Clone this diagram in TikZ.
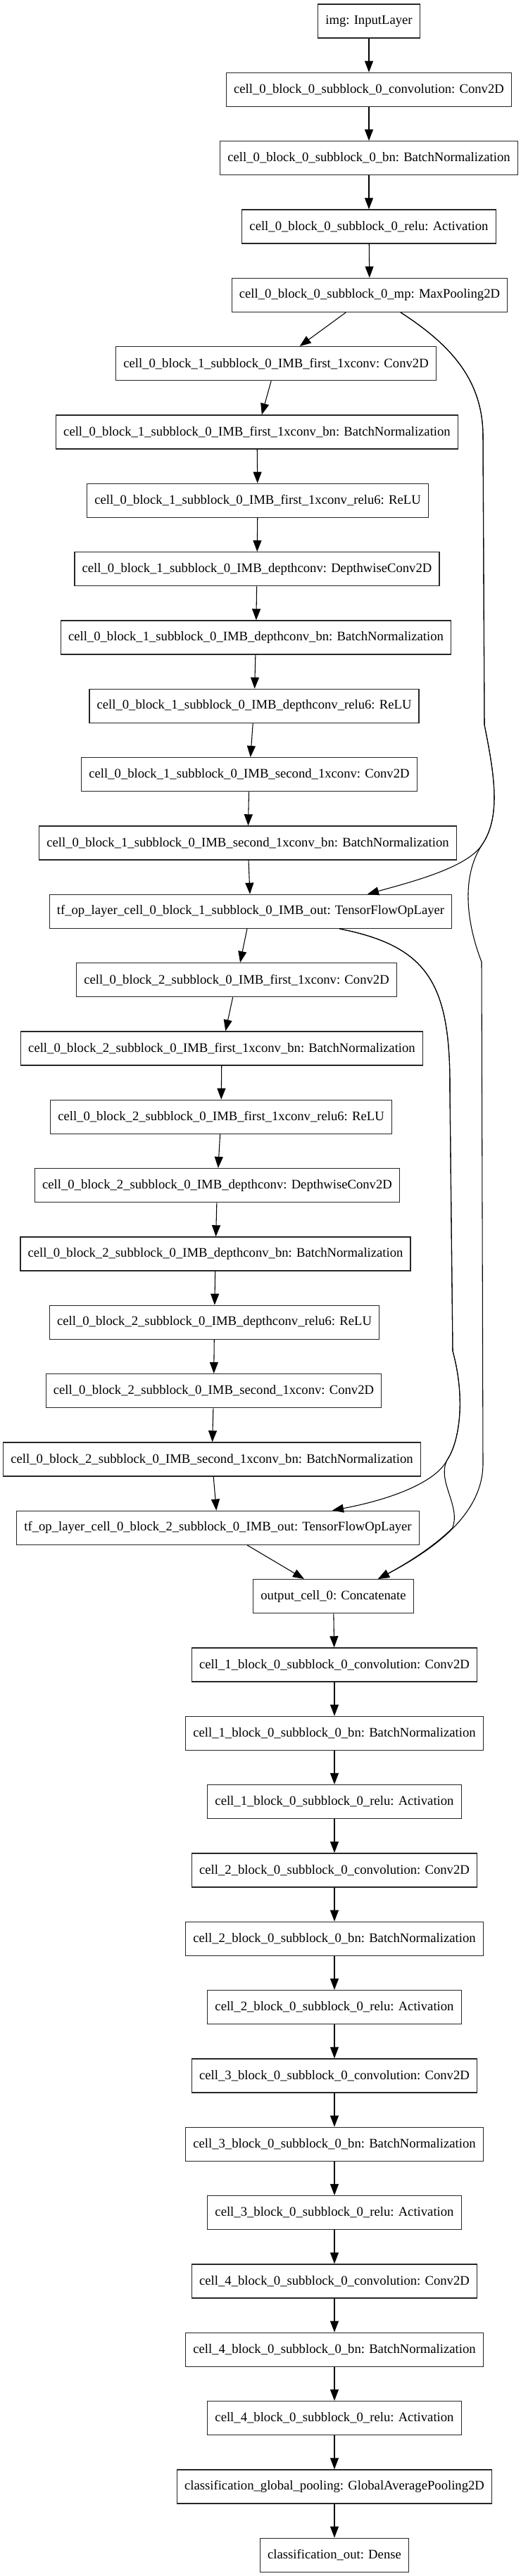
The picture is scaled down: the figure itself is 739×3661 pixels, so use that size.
\documentclass[tikz,border=0pt]{standalone}
\usepackage{fontspec}
\setmainfont{Liberation Serif}
\usetikzlibrary{arrows.meta, calc}

\begin{document}
\begin{tikzpicture}[
    x=0.75bp, y=-0.75bp,
    >={Triangle[length=12bp, width=9bp]},
    layerbox/.style={draw=black!85, line width=1bp, minimum height=36bp,
                     inner xsep=8bp, inner ysep=0pt,
                     font=\fontsize{14bp}{17bp}\selectfont},
    link/.style={->, line width=0.8bp}
  ]
  \useasboundingbox (0,0) rectangle (739,3661);

  % Cell 0, stem
  \foreach \i/\cx/\txt in {
      1/524/img: InputLayer,
      2/524/cell\_0\_block\_0\_subblock\_0\_convolution: Conv2D,
      3/524/cell\_0\_block\_0\_subblock\_0\_bn: BatchNormalization,
      4/524/cell\_0\_block\_0\_subblock\_0\_relu: Activation,
      5/525/cell\_0\_block\_0\_subblock\_0\_mp: MaxPooling2D} {
    \pgfmathsetmacro{\ry}{30+(\i-1)*97.33}
    \node[layerbox] (n\i) at (\cx,\ry) {\txt};
  }

  % Cell 0, block 1
  \foreach \i/\cx/\txt in {
      6/392/cell\_0\_block\_1\_subblock\_0\_IMB\_first\_1xconv: Conv2D,
      7/365/cell\_0\_block\_1\_subblock\_0\_IMB\_first\_1xconv\_bn: BatchNormalization,
      8/366/cell\_0\_block\_1\_subblock\_0\_IMB\_first\_1xconv\_relu6: ReLU,
      9/365/cell\_0\_block\_1\_subblock\_0\_IMB\_depthconv: DepthwiseConv2D,
      10/363.5/cell\_0\_block\_1\_subblock\_0\_IMB\_depthconv\_bn: BatchNormalization,
      11/361/cell\_0\_block\_1\_subblock\_0\_IMB\_depthconv\_relu6: ReLU,
      12/354/cell\_0\_block\_1\_subblock\_0\_IMB\_second\_1xconv: Conv2D,
      13/352/cell\_0\_block\_1\_subblock\_0\_IMB\_second\_1xconv\_bn: BatchNormalization,
      14/356/tf\_op\_layer\_cell\_0\_block\_1\_subblock\_0\_IMB\_out: TensorFlowOpLayer} {
    \pgfmathsetmacro{\ry}{30+(\i-1)*97.33}
    \node[layerbox] (n\i) at (\cx,\ry) {\txt};
  }

  % Cell 0, block 2
  \foreach \i/\cx/\txt in {
      15/336/cell\_0\_block\_2\_subblock\_0\_IMB\_first\_1xconv: Conv2D,
      16/315/cell\_0\_block\_2\_subblock\_0\_IMB\_first\_1xconv\_bn: BatchNormalization,
      17/314/cell\_0\_block\_2\_subblock\_0\_IMB\_first\_1xconv\_relu6: ReLU,
      18/308.5/cell\_0\_block\_2\_subblock\_0\_IMB\_depthconv: DepthwiseConv2D,
      19/306/cell\_0\_block\_2\_subblock\_0\_IMB\_depthconv\_bn: BatchNormalization,
      20/304.5/cell\_0\_block\_2\_subblock\_0\_IMB\_depthconv\_relu6: ReLU,
      21/303.5/cell\_0\_block\_2\_subblock\_0\_IMB\_second\_1xconv: Conv2D,
      22/301/cell\_0\_block\_2\_subblock\_0\_IMB\_second\_1xconv\_bn: BatchNormalization,
      23/309.5/tf\_op\_layer\_cell\_0\_block\_2\_subblock\_0\_IMB\_out: TensorFlowOpLayer,
      24/473.5/output\_cell\_0: Concatenate} {
    \pgfmathsetmacro{\ry}{30+(\i-1)*97.33}
    \node[layerbox] (n\i) at (\cx,\ry) {\txt};
  }

  % Cells 1 to 4
  \foreach \c in {1,...,4} {
    \foreach \k/\sfx in {0/convolution: Conv2D, 1/bn: BatchNormalization,
                         2/relu: Activation} {
      \pgfmathtruncatemacro{\i}{25+3*(\c-1)+\k}
      \pgfmathsetmacro{\ry}{30+(\i-1)*97.33}
      \node[layerbox] (n\i) at (475,\ry)
        {cell\_\c\_block\_0\_subblock\_0\_\sfx};
    }
  }

  % Classification head
  \node[layerbox] (n37) at (475,{30+36*97.33})
    {classification\_global\_pooling: GlobalAveragePooling2D};
  \node[layerbox] (n38) at (475,{30+37*97.33}) {classification\_out: Dense};

  % Main chain
  \foreach \i in {1,...,37} {
    \pgfmathtruncatemacro{\j}{\i+1}
    \draw[link] (n\i) -- (n\j);
  }

  % Skips from the max pooling
  \draw[link] ($(n5.south)+(44,0)$) .. controls (640,490) and (686,540) .. (686,620)
    -- (688,1030) .. controls (702,1100) and (712,1160) .. (685,1200)
    .. controls (665,1232) and (590,1252) .. ($(n14.north)+(166,0)$);
  \draw[link] ($(n5.south)+(44,0)$) .. controls (640,490) and (686,540) .. (686,620)
    -- (688,1030) .. controls (702,1100) and (712,1160) .. (685,1200)
    .. controls (655,1245) and (662,1310) .. (684,1367)
    -- (686,2080) .. controls (686,2150) and (620,2200) .. ($(n24.north)+(63.5,0)$);

  % Skips from block 1 output
  \draw[link] ($(n14.south)+(126,0)$) .. controls (610,1345) and (640,1400) .. (639,1550)
    -- (643,1920) .. controls (662,1990) and (652,2050) .. (635,2075)
    .. controls (620,2105) and (560,2130) .. ($(n23.north)+(162.5,0)$);
  \draw[link] ($(n14.south)+(126,0)$) .. controls (610,1345) and (640,1400) .. (639,1550)
    -- (643,1920) .. controls (662,1990) and (652,2050) .. (635,2075)
    .. controls (620,2105) and (655,2140) .. (642.6,2171.6)
    .. controls (615.75,2198.25) and (578.5,2221.5) .. ($(n24.north)+(63.5,0)$);
\end{tikzpicture}
\end{document}
